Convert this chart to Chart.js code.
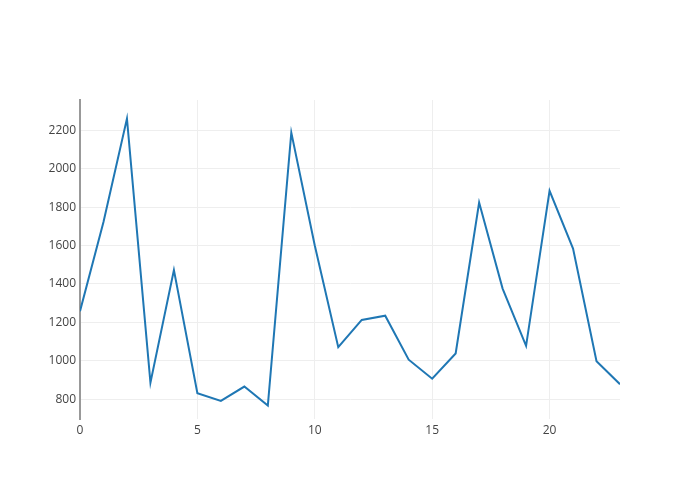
<!DOCTYPE html>
<html>
<head>
<meta charset="utf-8">
<script src="https://cdn.jsdelivr.net/npm/chart.js@4"></script>
<style>
  html, body { margin: 0; padding: 0; background: #fff; }
  #wrap { width: 700px; height: 500px; }
</style>
</head>
<body>
<div id="wrap"><canvas id="chart" width="700" height="500"></canvas></div>
<script>
const xValues = [0, 1, 2, 3, 4, 5, 6, 7, 8, 9, 10, 11, 12, 13, 14, 15, 16, 17, 18, 19, 20, 21, 22, 23];
const yValues = [1258, 1723, 2261, 886, 1472, 831, 791, 866, 767, 2188, 1600, 1071,
                 1213, 1235, 1006, 907, 1038, 1824, 1376, 1078, 1885, 1584, 998, 878];
const yTicks = [800, 1000, 1200, 1400, 1600, 1800, 2000, 2200];
const xTicks = [0, 5, 10, 15, 20];

const points = xValues.map((x, i) => ({ x: x, y: yValues[i] }));
const tickFont = { family: '"Open Sans", sans-serif', size: 12 };

new Chart(document.getElementById('chart'), {
  type: 'line',
  data: {
    datasets: [{
      data: points,
      borderColor: '#1f77b4',
      borderWidth: 2,
      pointRadius: 0,
      tension: 0,
      fill: false
    }]
  },
  options: {
    responsive: false,
    animation: false,
    layout: { padding: { top: 100, right: 80, left: 0, bottom: 0 } },
    plugins: { legend: { display: false }, tooltip: { enabled: false } },
    scales: {
      x: {
        type: 'linear',
        min: 0,
        max: 23,
        afterBuildTicks: s => { s.ticks = xTicks.map(v => ({ value: v })); },
        afterFit: s => { s.height = 81; },
        grid: { color: '#eee', lineWidth: 1, drawTicks: false },
        border: { display: false },
        ticks: { color: '#444', font: tickFont, padding: 4, callback: v => String(v) }
      },
      y: {
        type: 'linear',
        min: 697,
        max: 2358,
        afterBuildTicks: s => { s.ticks = yTicks.map(v => ({ value: v })); },
        afterFit: s => { s.width = 80; },
        grid: { color: '#eee', lineWidth: 1, drawTicks: false },
        border: { display: true, color: '#999', width: 2 },
        ticks: { color: '#444', font: tickFont, padding: 4, callback: v => String(v) }
      }
    }
  }
});
</script>
</body>
</html>
